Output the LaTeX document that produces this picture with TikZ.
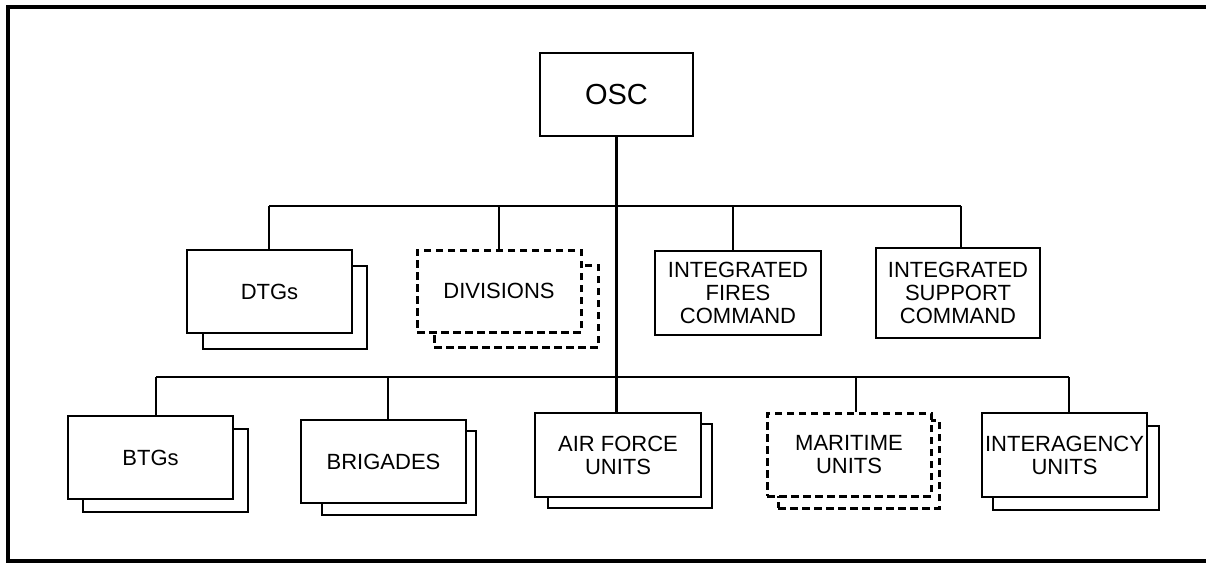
\documentclass[tikz,border=0pt]{standalone}
\usepackage{fontspec}
\setmainfont{Liberation Sans}
\begin{document}
\begin{tikzpicture}[x=1pt,y=-1pt,
  box/.style={draw, line width=2.4pt, fill=white, align=center, inner sep=0pt,
    font=\fontsize{22}{23}\selectfont},
  dbox/.style={box, line width=3pt, dash pattern=on 7.5pt off 4.5pt},
  conn/.style={line width=2.2pt},
  frame/.style={line width=4.5pt}]
\useasboundingbox (0,0) rectangle (1206,563);
\draw[frame] (1230,7) -- (8,7) -- (8,561) -- (1230,561);

% back boxes
\node[box, minimum width=164pt, minimum height=83pt] (dtgB) at (285,307.5) {};
\node[dbox, minimum width=164pt, minimum height=82pt] (divB) at (516,306) {};
\node[box, minimum width=165pt, minimum height=83pt] (btgB) at (165.5,470.5) {};
\node[box, minimum width=154pt, minimum height=84pt] (brigB) at (399,473) {};
\node[box, minimum width=164pt, minimum height=84pt] (afB) at (630,466) {};
\node[dbox, minimum width=161pt, minimum height=88pt] (marB) at (858.5,464) {};
\node[box, minimum width=166pt, minimum height=84pt] (iaB) at (1076,468) {};

% front boxes
\node[box, minimum width=153pt, minimum height=83pt, font=\fontsize{29}{31}\selectfont] (osc) at (616.5,94.5) {OSC};
\node[box, minimum width=165pt, minimum height=83pt] (dtg) at (269.5,291.5) {DTGs};
\node[dbox, minimum width=164pt, minimum height=82pt] (div) at (499,291) {DIVISIONS};
\node[box, minimum width=166pt, minimum height=84pt] (ifc) at (738,293) {INTEGRATED\\FIRES\\COMMAND};
\node[box, minimum width=164pt, minimum height=90pt] (isc) at (958,293) {INTEGRATED\\SUPPORT\\COMMAND};
\node[box, minimum width=165pt, minimum height=83pt] (btg) at (150.5,457.5) {BTGs};
\node[box, minimum width=165pt, minimum height=83pt] (brig) at (383.5,461.5) {BRIGADES};
\node[box, minimum width=166pt, minimum height=84pt] (af) at (618,455) {AIR FORCE\\UNITS};
\node[dbox, minimum width=164pt, minimum height=83pt] (mar) at (849,454.5) {MARITIME\\UNITS};
\node[box, minimum width=165pt, minimum height=84pt] (ia) at (1064.5,455) {INTERAGENCY\\UNITS};

% bus coordinates
\coordinate (t1) at (269,206);
\coordinate (t2) at (499,206);
\coordinate (t3) at (733,206);
\coordinate (t4) at (961,206);
\coordinate (b1) at (156,377);
\coordinate (b2) at (388,377);
\coordinate (b3) at (617,377);
\coordinate (b4) at (856,377);
\coordinate (b5) at (1069,377);

% connectors
\draw[conn] (t1) -- (t4);
\draw[conn] (b1) -- (b5);
\draw[conn] (osc.south) -- (osc.south |- af.north);
\draw[conn] (t1) -- (t1 |- dtg.north);
\draw[conn] (t2) -- (t2 |- div.north);
\draw[conn] (t3) -- (t3 |- ifc.north);
\draw[conn] (t4) -- (t4 |- isc.north);
\draw[conn] (b1) -- (b1 |- btg.north);
\draw[conn] (b2) -- (b2 |- brig.north);
\draw[conn] (b4) -- (b4 |- mar.north);
\draw[conn] (b5) -- (b5 |- ia.north);
\end{tikzpicture}
\end{document}
